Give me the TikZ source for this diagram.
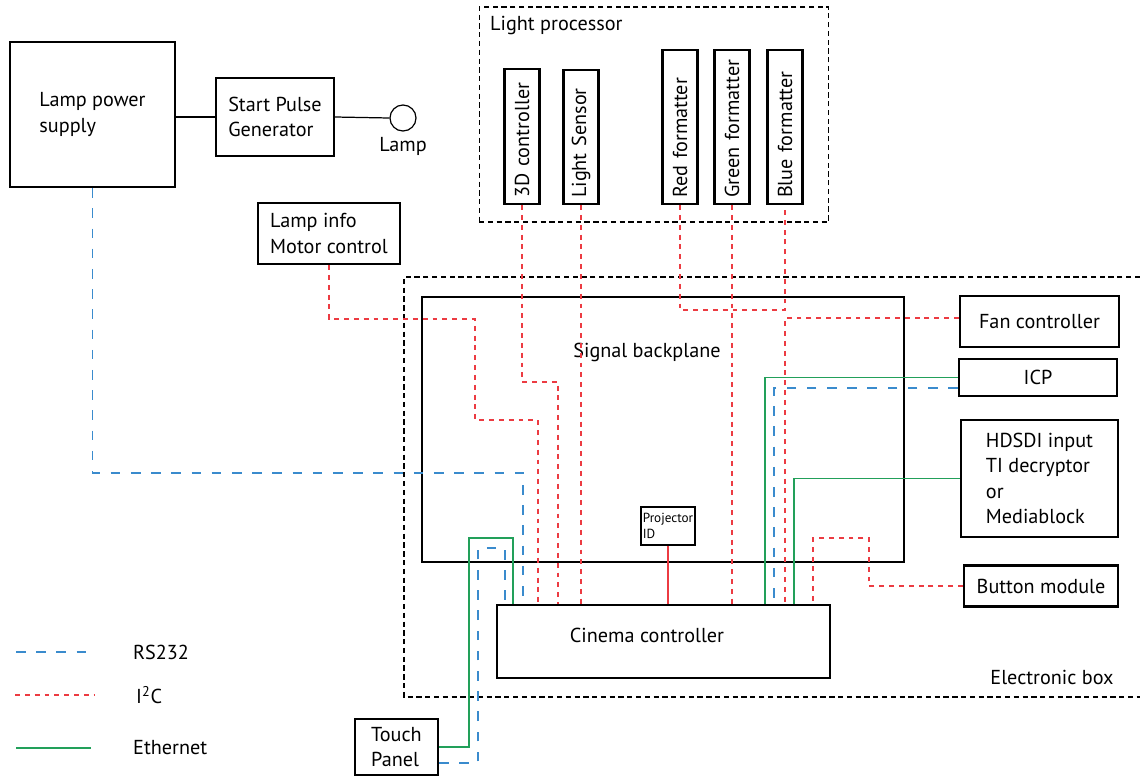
\documentclass[tikz,border=0pt]{standalone}
\usepackage{fontspec}
\setmainfont{PT Sans}
\usetikzlibrary{positioning, calc}

\definecolor{rsblue}{HTML}{3A8BCD}
\definecolor{iicred}{HTML}{EC3B42}
\definecolor{ethgreen}{HTML}{22A05A}

\tikzset{
  box/.style={draw, line width=1.3pt, inner sep=0pt, align=left},
  slotbox/.style={draw, line width=1.3pt, rotate=90, minimum height=0.7cm,
    inner xsep=3.5pt, minimum width=#1, text width=#1-7pt, align=left},
  frame/.style={draw, line width=0.6pt, dash pattern=on 3pt off 2pt},
  rs/.style={rsblue, line width=0.7pt, dash pattern=on 5.5pt off 6pt},
  iic/.style={iicred, line width=0.7pt, dash pattern=on 2.8pt off 2.8pt},
  eth/.style={ethgreen, line width=0.7pt}
}

\begin{document}
\begin{tikzpicture}[x=0.02cm, y=-0.02cm, font=\fontsize{11.5}{14.5}\selectfont]
  \useasboundingbox (0,0) rectangle (1140,775);

  % lamp side
  \node[box, minimum width=3.3cm, minimum height=2.9cm] (lps) at (92.5,114.5) {Lamp power\\supply};
  \node[box, minimum width=2.36cm, minimum height=1.56cm] (spg) at (275,117) {Start Pulse\\Generator};
  \node[draw, circle, minimum size=0.52cm, inner sep=0pt, line width=0.7pt] (lamp) at (403,118) {};
  \node[below=0pt of lamp] (lamplbl) {Lamp};
  \node[box, minimum width=2.84cm, minimum height=1.22cm] (info) at (329,233.5) {Lamp info\\Motor control};

  \draw[line width=0.7pt] (lps.east |- spg.west) -- (spg.west);
  \draw[line width=0.7pt] (spg.east) -- (lamp.west);

  % light processor
  \node[frame, minimum width=7cm, minimum height=4.3cm] (lp) at (654,114.5) {};
  \node[anchor=west] (lptitle) at (484,25) {Light processor};
  \node[slotbox=2.7cm] (ctl3d) at (522,136.5) {\mbox{3D controller}};
  \node[slotbox=2.68cm] (sensor) at (581,137) {\mbox{Light Sensor}};
  \node[slotbox=3.08cm] (fmtR) at (680,127) {\mbox{Red formatter}};
  \node[slotbox=3.08cm] (fmtG) at (732,127) {\mbox{Green formatter}};
  \node[slotbox=3.08cm] (fmtB) at (785,127) {\mbox{Blue formatter}};

  % electronic box
  \draw[frame] (1140,277) -- (404,277) -- (404,697) -- (1140,697);
  \node (eboxlbl) at (1052,677) {Electronic box};

  \node[box, minimum width=9.64cm, minimum height=5.3cm] (bp) at (663,429.5) {};
  \node (bplbl) at (647,352) {Signal backplane};
  \node[box, minimum width=6.66cm, minimum height=1.46cm] (cc) at (663.5,641.5) {};
  \node (cclbl) at (647,635) {Cinema controller};
  \node[box, minimum width=1.08cm, minimum height=0.76cm, font=\fontsize{7.5}{9}\selectfont] (pid) at (668,526) {Projector\\ID};

  \node[box, minimum width=3.18cm, minimum height=1.02cm] (fan) at (1039.5,321.5) {Fan controller};
  \node[box, minimum width=3.16cm, minimum height=0.74cm] (icp) at (1038,377.5) {ICP};
  \node[box, minimum width=3.14cm, minimum height=2.34cm] (hd) at (1039.5,478.5) {HDSDI input\\TI decryptor\\or\\Mediablock};
  \node[box, minimum width=3.08cm, minimum height=0.82cm] (btn) at (1041,586) {Button module};
  \node[box, minimum width=1.66cm, minimum height=1.12cm] (tp) at (396.5,747) {Touch\\Panel};

  % RS232
  \coordinate (rsA) at (523,473);
  \draw[rs] (lps.south) |- (rsA) -- (rsA |- cc.north);
  \coordinate (rsB) at (774,388);
  \draw[rs] (icp.west |- rsB) -| (rsB |- cc.north);
  \coordinate (rsC) at (478,548);
  \coordinate (rsD) at (478,763);
  \coordinate (rsE) at (505,548);
  \draw[rs] (tp.east |- rsD) -- (rsD) -- (rsC) -- (rsE) -- (rsE |- cc.north);

  % I2C
  \coordinate (iA) at (475,319);
  \coordinate (iB) at (538,420);
  \draw[iic] (info.south) |- (iA) |- (iB) -- (iB |- cc.north);
  \coordinate (iC) at (558,382);
  \draw[iic] (ctl3d.west) |- (iC) -- (iC |- cc.north);
  \draw[iic] (sensor.west) -- (sensor.west |- cc.north);
  \draw[iic] (fmtG.west) -- (fmtG.west |- cc.north);
  \coordinate (iD) at (785,310);
  \draw[iic] (fmtR.west) |- (iD) -- (fmtB.west);
  \coordinate (iE) at (785,318);
  \draw[iic] (fan.west |- iE) -- (iE) -- (iE |- cc.north);
  \coordinate (iF) at (869,538);
  \coordinate (iG) at (813,538);
  \draw[iic] (btn.west) -| (iF) -- (iG) -- (iG |- cc.north);
  \draw[iicred, line width=0.7pt] (pid.south) -- (pid.south |- cc.north);

  % Ethernet
  \coordinate (eA) at (765,378);
  \draw[eth] (icp.west) -| (eA |- cc.north);
  \coordinate (eB) at (794,478);
  \draw[eth] (hd.west) -| (eB |- cc.north);
  \coordinate (eC) at (469,538);
  \coordinate (eD) at (513,538);
  \draw[eth] (tp.east) -| (eC) -- (eD) -- (eD |- cc.north);

  % legend
  \coordinate (lgA) at (16,652);
  \coordinate (lgB) at (90,652);
  \draw[rs] (lgA) -- (lgB);
  \node[anchor=west] (lgrs) at (127,652) {RS232};
  \coordinate (lgC) at (15,695);
  \coordinate (lgD) at (95,695);
  \draw[iic] (lgC) -- (lgD);
  \node[anchor=west] (lgiic) at (130,695) {I\textsuperscript{2}C};
  \coordinate (lgE) at (16,748);
  \coordinate (lgF) at (91,748);
  \draw[eth] (lgE) -- (lgF);
  \node[anchor=west] (lgeth) at (127,748) {Ethernet};
\end{tikzpicture}
\end{document}
